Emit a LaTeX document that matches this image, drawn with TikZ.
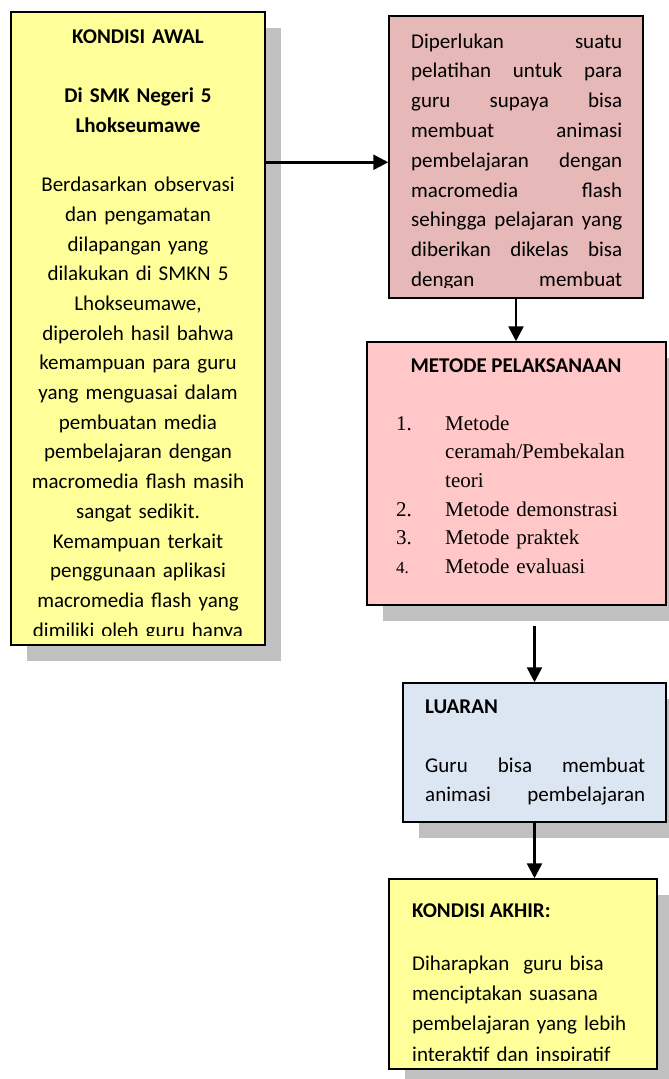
\documentclass[tikz,border=0pt]{standalone}
\usepackage{fontspec}
\setmainfont{Carlito}
\newfontfamily\serifft{Liberation Serif}
\usetikzlibrary{arrows.meta,shadows}

\definecolor{yellowbox}{HTML}{FFFF99}
\definecolor{rosebox}{HTML}{E6B8B7}
\definecolor{pinkbox}{HTML}{FFC7C7}
\definecolor{bluebox}{HTML}{DCE6F2}
\definecolor{shadowgray}{HTML}{C0C0C0}

\newcommand{\jline}[2]{\makebox[#1][s]{\spaceskip=0.226em plus 1fil\relax #2}}

\begin{document}
\begin{tikzpicture}[x=1pt, y=-1pt,
  flowbox/.style={draw, line width=1.5pt, inner sep=0pt},
  boxshadow/.style={drop shadow={shadow xshift=16pt, shadow yshift=-16pt, fill=shadowgray, opacity=1}},
  arr/.style={line width=2.5pt, -{Triangle[length=15pt,width=15pt]}},
  body/.style={inner sep=0pt, font=\fontsize{21}{#1}\selectfont},
  head/.style={inner sep=0pt, font=\fontsize{21}{25}\selectfont\bfseries}]

  \path[use as bounding box, clip] (0,0) rectangle (669,1079);

  \node[flowbox, boxshadow, fill=yellowbox, minimum width=254pt, minimum height=633pt] (awal) at (138,328.5) {};
  \node[flowbox, fill=rosebox, minimum width=254pt, minimum height=282pt] (perlu) at (516,157) {};
  \node[flowbox, boxshadow, fill=pinkbox, minimum width=299pt, minimum height=263pt] (metode) at (516.5,473.5) {};
  \node[flowbox, boxshadow, fill=bluebox, minimum width=263pt, minimum height=139pt] (luaran) at (534.5,752.5) {};
  \node[flowbox, boxshadow, fill=yellowbox, minimum width=268pt, minimum height=190pt] (akhir) at (523,974) {};

  \begin{scope}
    \clip (awal.north west) rectangle ([yshift=10pt]awal.south east);
    \node[body=29.7, text width=240pt, align=center, anchor=north] (awaltxt) at (138,22.2)
      {\strut\textbf{KONDISI AWAL}\\[29.7pt]
       \textbf{Di SMK Negeri 5}\\
       \textbf{Lhokseumawe}\\[29.7pt]
       Berdasarkan observasi\\
       dan pengamatan\\
       dilapangan yang\\
       dilakukan di SMKN 5\\
       Lhokseumawe,\\
       diperoleh hasil bahwa\\
       kemampuan para guru\\
       yang menguasai dalam\\
       pembuatan media\\
       pembelajaran dengan\\
       macromedia flash masih\\
       sangat sedikit.\\
       Kemampuan terkait\\
       penggunaan aplikasi\\
       macromedia flash yang\\
       dimiliki oleh guru hanya};
  \end{scope}

  \begin{scope}
    \clip (perlu.north west) rectangle ([yshift=11pt]perlu.south east);
    \node[body=29.8, text width=211pt, align=left, anchor=north west] (perlutxt) at (411,27.1)
      {\strut\jline{211pt}{Diperlukan suatu}\\
       \jline{211pt}{pelatihan untuk para}\\
       \jline{211pt}{guru supaya bisa}\\
       \jline{211pt}{membuat animasi}\\
       \jline{211pt}{pembelajaran dengan}\\
       \jline{211pt}{macromedia flash}\\
       \jline{211pt}{sehingga pelajaran yang}\\
       \jline{211pt}{diberikan dikelas bisa}\\
       \jline{211pt}{dengan membuat}};
  \end{scope}

  \node[head, anchor=base] (metodehead) at (516,372) {METODE PELAKSANAAN};
  \node[body=28.7, text width=262pt, align=left, anchor=north west] (metodelist) at (396,409.9)
    {\serifft\strut\makebox[49pt][l]{1.}Metode\\
     \hspace*{49pt}ceramah/Pembekalan\\
     \hspace*{49pt}teori\\
     \makebox[49pt][l]{2.}Metode demonstrasi\\
     \makebox[49pt][l]{3.}Metode praktek\\
     \makebox[49pt][l]{\fontsize{17}{28.7}\selectfont 4.}Metode evaluasi};

  \node[head, anchor=base west] (luaranhead) at (425,713) {LUARAN};
  \node[body=29.5, text width=220pt, align=left, anchor=north west] (luarantxt) at (425,751.4)
    {\strut\jline{220pt}{Guru bisa membuat}\\
     \jline{220pt}{animasi pembelajaran}};

  \node[head, anchor=base west] (akhirhead) at (412,917) {KONDISI AKHIR:};
  \begin{scope}
    \clip (akhir.north west) rectangle ([yshift=9pt]akhir.south east);
    \node[body=30.3, text width=240pt, align=left, anchor=north west] (akhirtxt) at (412,948.8)
      {\strut Diharapkan\ \ guru bisa\\
       menciptakan suasana\\
       pembelajaran yang lebih\\
       interaktif dan inspiratif};
  \end{scope}

  \coordinate (a1) at ([yshift=-151pt]awal.north east);
  \coordinate (a3) at ([yshift=-20pt]metode.south);
  \draw[arr] (a1) -- (a1 -| perlu.west);
  \draw[arr] (perlu.south) -- (perlu.south |- metode.north);
  \draw[arr] (a3 -| luaran.north) -- (luaran.north);
  \draw[arr] (luaran.south) -- (luaran.south |- akhir.north);
\end{tikzpicture}
\end{document}
